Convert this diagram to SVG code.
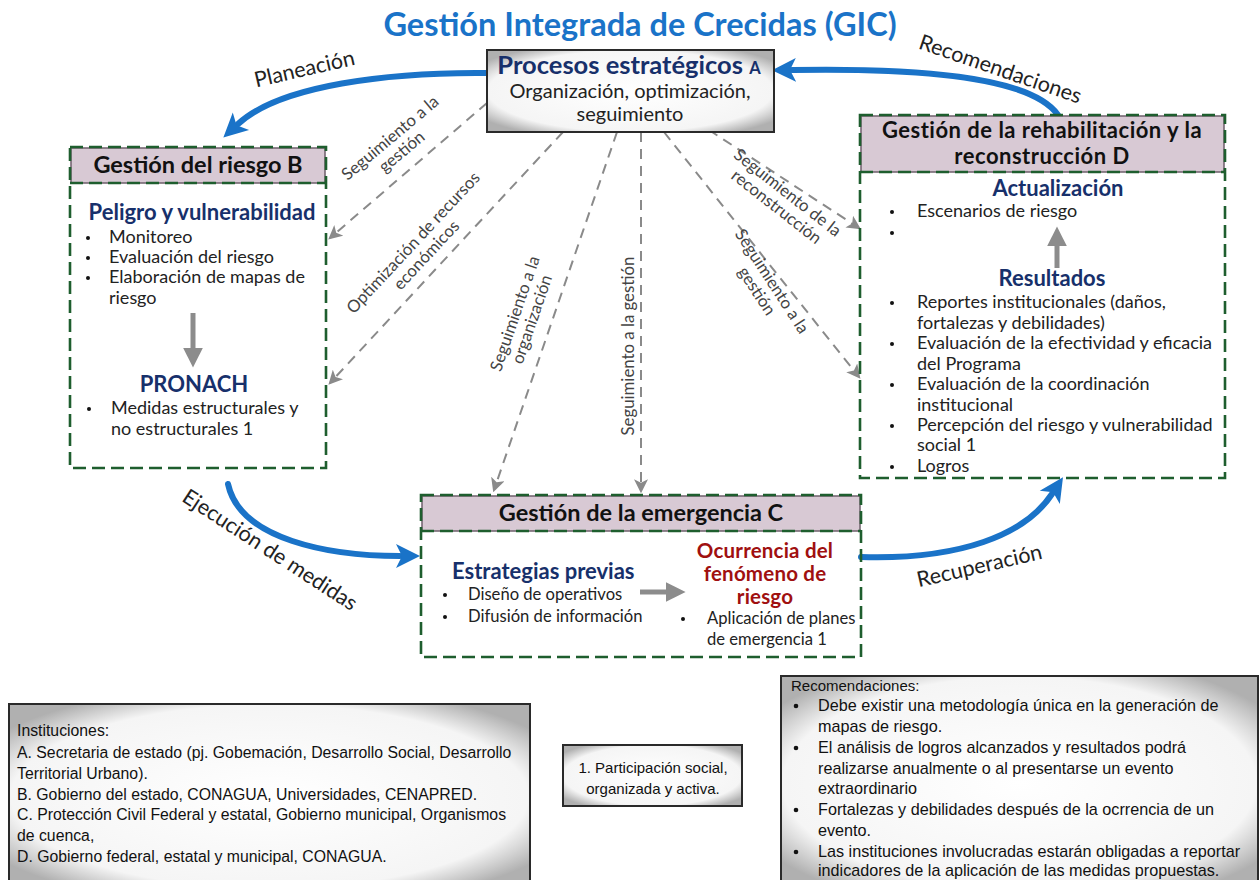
<svg xmlns="http://www.w3.org/2000/svg" width="1259" height="880" viewBox="0 0 1259 880">
<defs>
<style>
.t{font-family:Lato,"Open Sans",sans-serif;fill:#222}
.body{font-size:18px;fill:#222;font-weight:normal}
.bodyc{font-size:16.6px;fill:#222;font-weight:normal}
.hd{font-size:23.5px;font-weight:bold;fill:#111;text-anchor:middle}
.hd2{font-size:22px;font-weight:bold;fill:#111;text-anchor:middle;letter-spacing:0.5px}
.sub{font-size:22px;font-weight:bold;fill:#17306b}
.red{font-size:20.5px;font-weight:bold;fill:#a01010;letter-spacing:0.2px}
.lab{font-size:16.8px;fill:#444;text-anchor:middle}
.blab{font-size:21.5px;fill:#222;text-anchor:middle}
.note{font-family:"Liberation Sans",Arial,sans-serif;font-size:15.8px;fill:#111}
.noter{font-size:16.2px}
.frame{fill:none;stroke:#1e5e2e;stroke-width:2.6;stroke-dasharray:13 6}
.hdr{fill:#d8c9d4;stroke:#6e5f6b;stroke-width:1.5}
.blue{fill:none;stroke:#1a73c8;stroke-width:6;stroke-linecap:round}
.dash{fill:none;stroke:#8a8a8a;stroke-width:2;stroke-dasharray:10 7}
.gray{fill:none;stroke:#8c8c8c;stroke-width:5}
.dot{fill:#111}
</style>
<radialGradient id="gbox" cx="50%" cy="50%" r="62%">
<stop offset="0" stop-color="#ffffff"/>
<stop offset="0.8" stop-color="#f5f5f5"/>
<stop offset="1" stop-color="#b0b0b0"/>
</radialGradient>
<marker id="mb" markerUnits="userSpaceOnUse" markerWidth="30" markerHeight="30" refX="4" refY="12" orient="auto" viewBox="0 0 30 24">
<path d="M0,0 L24,12 L0,24 L6,12 Z" fill="#1a73c8"/>
</marker>
<marker id="md" markerUnits="userSpaceOnUse" markerWidth="14" markerHeight="14" refX="10" refY="6" orient="auto" viewBox="0 0 12 12">
<path d="M0,0 L12,6 L0,12 L3,6 Z" fill="#8a8a8a"/>
</marker>
<marker id="mg" markerUnits="userSpaceOnUse" markerWidth="22" markerHeight="22" refX="2" refY="9" orient="auto" viewBox="0 0 20 18">
<path d="M0,0 L18,9 L0,18 Z" fill="#8c8c8c"/>
</marker>
</defs>
<rect width="1259" height="880" fill="#fff"/>
<text x="640" y="36" text-anchor="middle" style="font-family:Lato,'Open Sans',sans-serif;font-size:32.5px;font-weight:bold;fill:#1a73c8">Gestión Integrada de Crecidas (GIC)</text>

<g id="connectors">
<path class="blue" d="M487,73 C390,72 280,85 238,124" marker-end="url(#mb)"/>
<path class="blue" d="M1058,115 C1030,75 910,68 792,70" marker-end="url(#mb)"/>
<path class="blue" d="M228,484 C240,540 330,556 400,556" marker-end="url(#mb)"/>
<path class="blue" d="M861,557 C960,560 1025,535 1052,494" marker-end="url(#mb)"/>
<path class="dash" d="M487,103 L330,238" marker-end="url(#md)"/>
<path class="dash" d="M563,132 L330,383" marker-end="url(#md)"/>
<path class="dash" d="M617,132 L494,490" marker-end="url(#md)"/>
<path class="dash" d="M641,132 L641,491" marker-end="url(#md)"/>
<path class="dash" d="M664,132 L859,377" marker-end="url(#md)"/>
<path class="dash" d="M709,130 L859,228" marker-end="url(#md)"/>
<text class="t blab" transform="translate(306,76) rotate(-13)">Planeación</text>
<text class="t blab" transform="translate(998,76) rotate(19)">Recomendaciones</text>
<text class="t blab" transform="translate(266,556) rotate(33)">Ejecución de medidas</text>
<text class="t blab" transform="translate(981,573) rotate(-13)">Recuperación</text>
<text class="t lab" transform="translate(397,146) rotate(-40)"><tspan x="0" y="-5">Seguimiento a la</tspan><tspan x="0" y="13">gestión</tspan></text>
<text class="t lab" transform="translate(421,250) rotate(-47)"><tspan x="0" y="-5">Optimización de recursos</tspan><tspan x="0" y="13">económicos</tspan></text>
<text class="t lab" transform="translate(525,317) rotate(-71)"><tspan x="0" y="-5">Seguimiento a la</tspan><tspan x="0" y="13">organización</tspan></text>
<text class="t lab" transform="translate(634,346) rotate(-90)">Seguimiento a la gestión</text>
<text class="t lab" transform="translate(781,201) rotate(38)"><tspan x="0" y="-5">Seguimiento de la</tspan><tspan x="0" y="13">reconstrucción</tspan></text>
<text class="t lab" transform="translate(763,287) rotate(57)"><tspan x="0" y="-5">Seguimiento a la</tspan><tspan x="0" y="13">gestión</tspan></text>
</g>

<g id="nodeA">
<rect x="487" y="50" width="287" height="82" fill="url(#gbox)" stroke="#2a2a2a" stroke-width="2"/>
<text class="t" text-anchor="middle"><tspan x="629" y="74" style="font-size:25.5px;font-weight:bold;fill:#17306b">Procesos estratégicos <tspan style="font-size:16.5px">A</tspan></tspan><tspan x="630" y="98" style="font-size:20px">Organización, optimización,</tspan><tspan x="630" y="121" style="font-size:20px">seguimiento</tspan></text>
</g>

<g id="nodeB">
<rect class="hdr" x="71" y="148" width="254" height="35"/>
<rect class="frame" x="70" y="147" width="256" height="321"/>
<line class="frame" x1="70" y1="183" x2="326" y2="183"/>
<text class="t hd" x="198" y="173">Gestión del riesgo B</text>
<circle class="dot" cx="88" cy="238" r="2"/>
<circle class="dot" cx="88" cy="258" r="2"/>
<circle class="dot" cx="88" cy="278" r="2"/>
<text class="t"><tspan class="sub" x="202" y="220" text-anchor="middle">Peligro y vulnerabilidad</tspan><tspan class="body" x="109" y="243">Monitoreo</tspan><tspan class="body" x="109" y="263">Evaluación del riesgo</tspan><tspan class="body" x="109" y="283">Elaboración de mapas de</tspan><tspan class="body" x="109" y="304">riesgo</tspan></text>
<path class="gray" d="M193,313 L193,350" marker-end="url(#mg)"/>
<circle class="dot" cx="89" cy="409" r="2"/>
<text class="t"><tspan class="sub" x="194" y="392" text-anchor="middle">PRONACH</tspan><tspan class="body" x="111" y="414">Medidas estructurales y</tspan><tspan class="body" x="111" y="435">no estructurales 1</tspan></text>
</g>

<g id="nodeD">
<rect class="hdr" x="861" y="116" width="363" height="56"/>
<rect class="frame" x="860" y="115" width="365" height="363"/>
<line class="frame" x1="860" y1="172" x2="1225" y2="172"/>
<text class="t hd2"><tspan x="1042" y="138">Gestión de la rehabilitación y la</tspan><tspan x="1042" y="164">reconstrucción D</tspan></text>
<circle class="dot" cx="892" cy="212" r="2"/>
<circle class="dot" cx="892" cy="233" r="2"/>
<text class="t"><tspan class="sub" x="1058" y="196" text-anchor="middle">Actualización</tspan><tspan class="body" x="917" y="217">Escenarios de riesgo</tspan></text>
<path class="gray" d="M1057,268 L1057,244" marker-end="url(#mg)"/>
<circle class="dot" cx="892" cy="303" r="2"/>
<circle class="dot" cx="892" cy="344" r="2"/>
<circle class="dot" cx="892" cy="385" r="2"/>
<circle class="dot" cx="892" cy="426" r="2"/>
<circle class="dot" cx="892" cy="467" r="2"/>
<text class="t"><tspan class="sub" x="1052" y="286" text-anchor="middle">Resultados</tspan><tspan class="body" x="917" y="308">Reportes institucionales (daños,</tspan><tspan class="body" x="917" y="329">fortalezas y debilidades)</tspan><tspan class="body" x="917" y="349">Evaluación de la efectividad y eficacia</tspan><tspan class="body" x="917" y="370">del Programa</tspan><tspan class="body" x="917" y="390">Evaluación de la coordinación</tspan><tspan class="body" x="917" y="411">institucional</tspan><tspan class="body" x="917" y="431">Percepción del riesgo y vulnerabilidad</tspan><tspan class="body" x="917" y="451">social 1</tspan><tspan class="body" x="917" y="472">Logros</tspan></text>
</g>

<g id="nodeC">
<rect class="hdr" x="422" y="496" width="438" height="35"/>
<rect class="frame" x="421" y="495" width="440" height="162"/>
<line class="frame" x1="421" y1="531" x2="861" y2="531"/>
<text class="t hd" x="641" y="521">Gestión de la emergencia C</text>
<circle class="dot" cx="445" cy="595" r="2"/>
<circle class="dot" cx="445" cy="617" r="2"/>
<circle class="dot" cx="683" cy="619" r="2"/>
<path class="gray" d="M640,592 L668,592" marker-end="url(#mg)"/>
<text class="t"><tspan class="sub" x="452" y="579">Estrategias previas</tspan><tspan class="bodyc" x="468" y="600">Diseño de operativos</tspan><tspan class="bodyc" x="468" y="622">Difusión de información</tspan><tspan class="red" x="765" y="558" text-anchor="middle">Ocurrencia del</tspan><tspan class="red" x="765" y="581" text-anchor="middle">fenómeno de</tspan><tspan class="red" x="765" y="604" text-anchor="middle">riesgo</tspan><tspan class="bodyc" x="707" y="624">Aplicación de planes</tspan><tspan class="bodyc" x="707" y="645">de emergencia 1</tspan></text>
</g>

<g id="noteInstituciones">
<rect x="9" y="704" width="521" height="185" fill="url(#gbox)" stroke="#2a2a2a" stroke-width="2"/>
<text class="note"><tspan x="17" y="736">Instituciones:</tspan><tspan x="17" y="758">A. Secretaria de estado (pj. Gobemación, Desarrollo Social, Desarrollo</tspan><tspan x="17" y="779">Territorial Urbano).</tspan><tspan x="17" y="800">B. Gobierno del estado, CONAGUA, Universidades, CENAPRED.</tspan><tspan x="17" y="820">C. Protección Civil Federal y estatal, Gobierno municipal, Organismos</tspan><tspan x="17" y="841">de cuenca,</tspan><tspan x="17" y="862">D. Gobierno federal, estatal y municipal, CONAGUA.</tspan></text>
</g>

<g id="noteParticipacion">
<rect x="563" y="745" width="179" height="61" fill="url(#gbox)" stroke="#2a2a2a" stroke-width="2"/>
<text class="note" text-anchor="middle" style="font-size:15px"><tspan x="653" y="773">1. Participación social,</tspan><tspan x="653" y="794">organizada y activa.</tspan></text>
</g>

<g id="noteRecomendaciones">
<rect x="781" y="676" width="477" height="214" fill="url(#gbox)" stroke="#2a2a2a" stroke-width="2"/>
<circle class="dot" cx="796" cy="706" r="2.3"/>
<circle class="dot" cx="796" cy="748" r="2.3"/>
<circle class="dot" cx="796" cy="810" r="2.3"/>
<circle class="dot" cx="796" cy="852" r="2.3"/>
<text class="note"><tspan x="791" y="691" style="font-size:15px">Recomendaciones:</tspan><tspan class="noter" x="818" y="711">Debe existir una metodología única en la generación de</tspan><tspan class="noter" x="818" y="732">mapas de riesgo.</tspan><tspan class="noter" x="818" y="753">El análisis de logros alcanzados y resultados podrá</tspan><tspan class="noter" x="818" y="774">realizarse anualmente o al presentarse un evento</tspan><tspan class="noter" x="818" y="794">extraordinario</tspan><tspan class="noter" x="818" y="815">Fortalezas y debilidades después de la ocrrencia de un</tspan><tspan class="noter" x="818" y="836">evento.</tspan><tspan class="noter" x="818" y="857">Las instituciones involucradas estarán obligadas a reportar</tspan><tspan class="noter" x="818" y="876">indicadores de la aplicación de las medidas propuestas.</tspan></text>
</g>
</svg>
